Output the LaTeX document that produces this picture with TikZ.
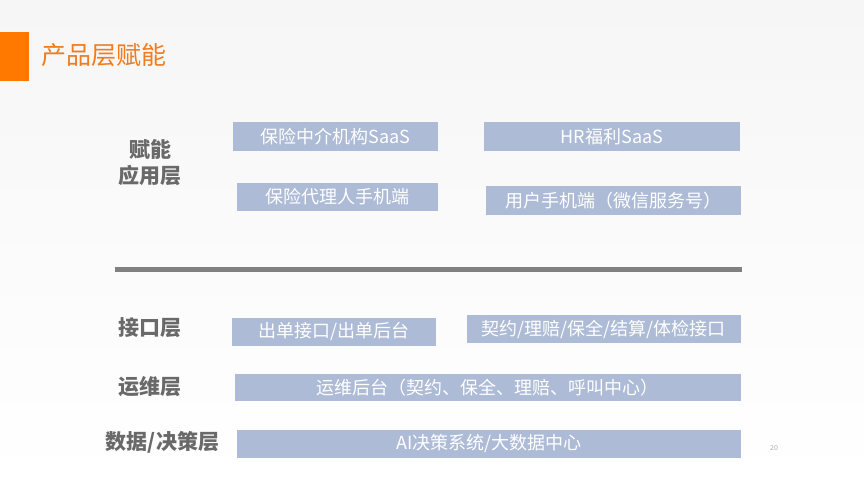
\documentclass[tikz,border=0pt]{standalone}
\usepackage{fontspec}
\setmainfont{Noto Sans CJK SC}
\definecolor{boxblue}{RGB}{173,187,214}
\definecolor{titleorange}{RGB}{240,124,30}
\definecolor{barorange}{RGB}{255,120,0}
\definecolor{labelgray}{RGB}{105,105,105}
\definecolor{rulegray}{RGB}{128,128,128}
\definecolor{bgtop}{RGB}{246,246,246}
\begin{document}
\begin{tikzpicture}[x=1pt, y=-1pt, every node/.style={inner sep=0pt},
    layerbox/.style={fill=boxblue, text=white, font=\fontsize{18}{21}\selectfont},
    layername/.style={text=labelgray, font=\fontsize{21}{26}\selectfont\bfseries, align=center}]
            % slide background
            \shade[top color=bgtop, bottom color=white] (0,0) rectangle (864,483);
            \useasboundingbox (0,0) rectangle (864,483);
            % title bar
            \fill[barorange] (0,31.5) rectangle (28.5,80.5);
            \node[anchor=west, text=titleorange, font=\fontsize{25}{30}\selectfont] (title) at (41,55.5) {产品层赋能};
            % upper layer
            \node[layername] (appname) at (150,163) {赋能\\应用层};
            \node[layerbox, minimum width=205pt, minimum height=29pt] (agencysaas) at (335.5,136.5) {保险中介机构SaaS};
            \node[layerbox, minimum width=201pt, minimum height=28pt] (agentapp) at (337.5,197) {保险代理人手机端};
            \node[layerbox, minimum width=256pt, minimum height=29pt] (hrsaas) at (612,136.5) {HR福利SaaS};
            \node[layerbox, minimum width=255pt, minimum height=29pt] (userapp) at (613,200.5) {用户手机端（微信服务号）};
            % divider
            \coordinate (ruleL) at (114.5,269.5);
            \coordinate (ruleR) at (741.5,269.5);
            \draw[rulegray, line width=4.5pt] (ruleL) -- (ruleR);
            % lower layers
            \node[layername] (apiname) at (149.5,327.5) {接口层};
            \node[layername] (opsname) at (149.5,386.5) {运维层};
            \node[layername] (dataname) at (162.5,442.5) {数据/决策层};
            \node[layerbox, minimum width=204pt, minimum height=28pt] (orderapi) at (334,331.5) {出单接口/出单后台};
            \node[layerbox, minimum width=273.5pt, minimum height=28pt] (serviceapi) at (603.75,329) {契约/理赔/保全/结算/体检接口};
            \node[layerbox, minimum width=506pt, minimum height=27pt] (opsback) at (487.75,387.2) {运维后台（契约、保全、理赔、呼叫中心）};
            \node[layerbox, minimum width=503.5pt, minimum height=27.5pt] (aidata) at (489,443.9) {AI决策系统/大数据中心};
            % page number
            \node[text=black!30, font=\fontsize{7}{8}\selectfont] (pagenum) at (774,447.5) {20};
\end{tikzpicture}
\end{document}
